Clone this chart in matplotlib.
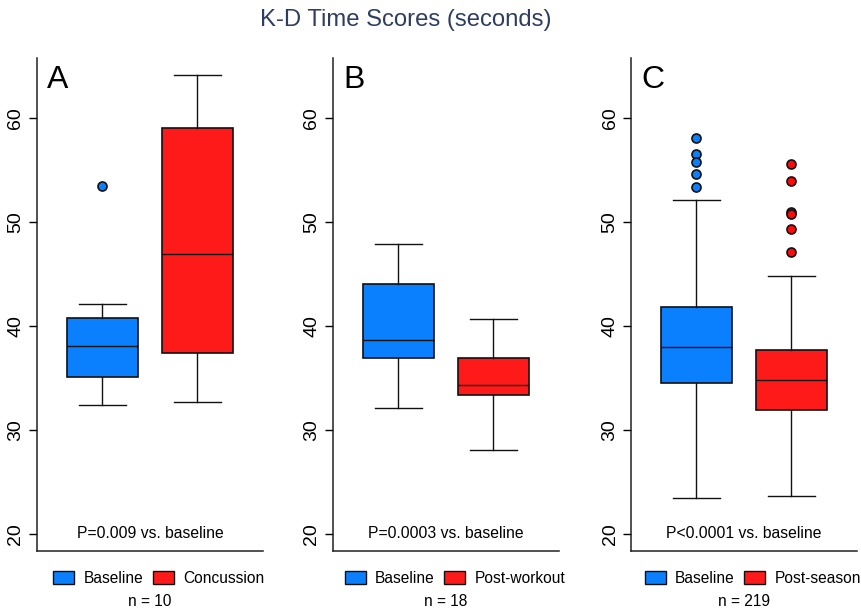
import matplotlib
matplotlib.use("Agg")
import matplotlib.pyplot as plt
from matplotlib.patches import Patch

plt.rcParams["font.family"] = ["Liberation Sans", "DejaVu Sans"]

BLUE = "#0A80FF"
RED = "#FF1A1A"

panels = ["A", "B", "C"]
groups = [["Baseline", "Concussion"], ["Baseline", "Post-workout"], ["Baseline", "Post-season"]]
p_texts = ["P=0.009 vs. baseline", "P=0.0003 vs. baseline", "P<0.0001 vs. baseline"]
n_counts = [10, 18, 219]

# box stats: whislo, q1, median, q3, whishi
baseline_stats = [
    [32.4, 35.1, 38.1, 40.8, 42.1],
    [32.1, 36.9, 38.65, 44.0, 47.9],
    [23.5, 34.5, 38.0, 41.8, 52.1],
]
other_stats = [
    [32.7, 37.4, 46.9, 59.0, 64.1],
    [28.1, 33.4, 34.3, 36.9, 40.7],
    [23.7, 31.9, 34.8, 37.7, 44.8],
]
baseline_fliers = [[53.5], [], [58.1, 56.5, 55.8, 54.6, 53.4]]
other_fliers = [[], [], [55.6, 53.9, 51.0, 50.8, 49.3, 47.1]]

fig = plt.figure(figsize=(8.62, 6.11), dpi=100)
fig.text(0.471, 0.967, "K-D Time Scores (seconds)", ha="center", va="center",
         fontsize=17.2, color="#2E3D60")

lefts = [37 / 862, 333 / 862, 631 / 862]
for i in range(3):
    ax = fig.add_axes([lefts[i], 0.0982, 0.262, 0.807])
    stats = []
    for vals, fl in [(baseline_stats[i], baseline_fliers[i]), (other_stats[i], other_fliers[i])]:
        stats.append({"whislo": vals[0], "q1": vals[1], "med": vals[2], "q3": vals[3],
                      "whishi": vals[4], "fliers": fl})
    bp = ax.bxp(stats, positions=[1, 2], widths=0.75, capwidths=0.5, patch_artist=True,
                boxprops=dict(linewidth=1.2, edgecolor="#111111"),
                medianprops=dict(color="#111111", linewidth=1.0),
                whiskerprops=dict(color="#111111", linewidth=1.0),
                capprops=dict(color="#111111", linewidth=1.0))
    for box, c in zip(bp["boxes"], [BLUE, RED]):
        box.set_facecolor(c)
    for fl, c in zip(bp["fliers"], [BLUE, "#FF0A0A"]):
        fl.set(marker="o", markerfacecolor=c, markeredgecolor="#111111",
               markersize=6.5, markeredgewidth=1.2)

    ax.set_xlim(0.31, 2.69)
    ax.set_ylim(18.37, 65.77)
    ax.set_yticks([20, 30, 40, 50, 60])
    ax.set_xticks([])
    ax.tick_params(axis="y", labelsize=14, length=6, width=1.0, pad=3)
    for lab in ax.get_yticklabels():
        lab.set_rotation(90)
        lab.set_va("center")
    for s in ["top", "right"]:
        ax.spines[s].set_visible(False)
    for s in ["left", "bottom"]:
        ax.spines[s].set_linewidth(1.1)
        ax.spines[s].set_color("#222222")

    ax.text(0.045, 0.985, panels[i], transform=ax.transAxes, fontsize=23,
            ha="left", va="top")
    ax.text(0.5, 0.035, p_texts[i], transform=ax.transAxes, fontsize=11.3,
            ha="center", va="center")

    handles = [Patch(facecolor=BLUE, edgecolor="#111111", label=groups[i][0]),
               Patch(facecolor=RED, edgecolor="#111111", label=groups[i][1])]
    ax.legend(handles=handles, loc="center", bbox_to_anchor=(0.54, -0.055),
              ncol=2, frameon=False, fontsize=11.2, handlelength=1.35,
              handleheight=0.95, handletextpad=0.6, columnspacing=0.6,
              borderaxespad=0, borderpad=0)
    ax.text(0.5, -0.103, "n = %d" % n_counts[i], transform=ax.transAxes,
            fontsize=11.2, ha="center", va="center")

fig.savefig("out.png", dpi=100)
